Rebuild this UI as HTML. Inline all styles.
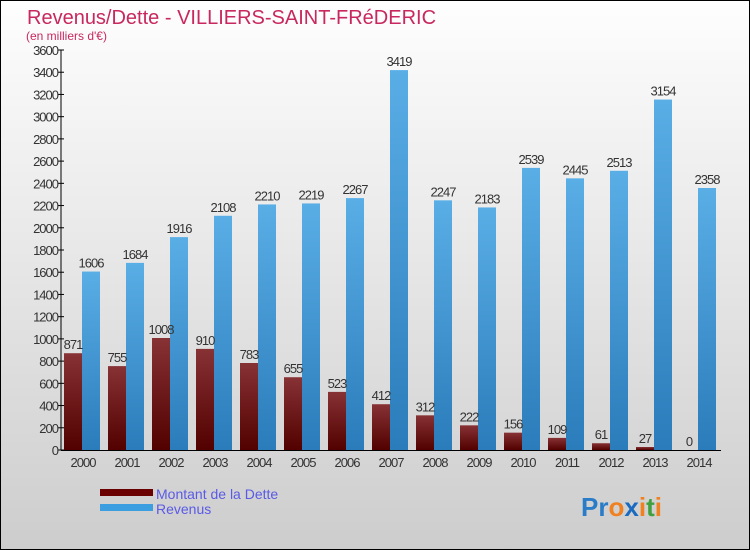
<!DOCTYPE html>
<html><head><meta charset="utf-8"><style>
body{margin:0;width:750px;height:550px;overflow:hidden;font-family:"Liberation Sans",sans-serif}
svg{display:block}
</style></head><body>
<svg id="chart" width="750" height="550" xmlns="http://www.w3.org/2000/svg">
<defs>
<linearGradient id="bg" x1="0" y1="0" x2="0" y2="1"><stop offset="0" stop-color="#fefefe"/><stop offset="1" stop-color="#cdcdcd"/></linearGradient>
<linearGradient id="gd" x1="0" y1="0" x2="0" y2="1"><stop offset="0" stop-color="#873235"/><stop offset="1" stop-color="#520000"/></linearGradient>
<linearGradient id="gr" x1="0" y1="0" x2="0" y2="1"><stop offset="0" stop-color="#5aaee6"/><stop offset="1" stop-color="#2a7cba"/></linearGradient>
</defs>
<rect x="0.5" y="0.5" width="749" height="549" fill="url(#bg)" stroke="#000"/>
<text x="27" y="24" font-size="20" fill="#c8285f">Revenus/Dette - VILLIERS-SAINT-FRéDERIC</text>
<text x="26" y="40" font-size="12" fill="#c8285f">(en milliers d'€)</text>
<g id="plot"></g>
<rect x="100" y="489" width="53" height="7" fill="#6a0000"/>
<text x="156" y="499" font-size="14" fill="#5a5ae6">Montant de la Dette</text>
<rect x="100" y="504" width="53" height="7" fill="#3a9ee0"/>
<text x="156" y="514" font-size="14" fill="#5a5ae6">Revenus</text>
<text x="581" y="516" font-size="26" font-weight="bold"><tspan fill="#2a7cc8">Pr</tspan><tspan fill="#f08020">o</tspan><tspan fill="#1a6ac0">x</tspan><tspan fill="#f08020">i</tspan><tspan fill="#40a040">t</tspan><tspan fill="#f08020">i</tspan></text>
</svg>
<script>
const years=["2000","2001","2002","2003","2004","2005","2006","2007","2008","2009","2010","2011","2012","2013","2014"];
const dette=[871,755,1008,910,783,655,523,412,312,222,156,109,61,27,0];
const revenus=[1606,1684,1916,2108,2210,2219,2267,3419,2247,2183,2539,2445,2513,3154,2358];
const yTicks=[0,200,400,600,800,1000,1200,1400,1600,1800,2000,2200,2400,2600,2800,3000,3200,3400,3600];
const NS="http://www.w3.org/2000/svg";
const g=document.getElementById('plot');
const y0=450,yTop=50,yMax=3600;
const y=v=>y0-(v/yMax)*(y0-yTop);
const x=i=>83+i*44;
function mk(t,a){const e=document.createElementNS(NS,t);for(const k in a)e.setAttribute(k,a[k]);g.appendChild(e);return e;}
let ax=mk('line',{x1:61,y1:y(yMax),x2:61,y2:y0,stroke:'#000'});


let bx=mk('line',{x1:61,y1:y0+0.5,x2:721,y2:y0+0.5,stroke:'#000'});


yTicks.forEach(v=>{
 const tk=mk('line',{x1:58,x2:64,y1:y(v),y2:y(v),stroke:'#000'});
 
 
 const t=mk('text',{x:58,y:y(v)+5,'font-size':13,'text-anchor':'end',fill:'#333','letter-spacing':'-1'});
 t.textContent=v;
 
 
});
years.forEach((yr,i)=>{
 const cx=x(i);
 const d=mk('rect',{x:cx-19,y:y(dette[i]),width:18,height:y0-y(dette[i]),fill:'url(#gd)'});
 
 
 const r=mk('rect',{x:cx-1,y:y(revenus[i]),width:18,height:y0-y(revenus[i]),fill:'url(#gr)'});
 
 
 const dl=mk('text',{x:cx-10,y:y(dette[i])-4,'font-size':13,'text-anchor':'middle',fill:'#333','letter-spacing':'-1'});
 dl.textContent=dette[i];
 
 
 const rl=mk('text',{x:cx+8,y:y(revenus[i])-4,'font-size':13,'text-anchor':'middle',fill:'#333','letter-spacing':'-1'});
 rl.textContent=revenus[i];
 
 
 const xl=mk('text',{x:cx,y:467,'font-size':13,'text-anchor':'middle',fill:'#333','letter-spacing':'-1'});
 xl.textContent=yr;
 
 
});
</script>
</body></html>
